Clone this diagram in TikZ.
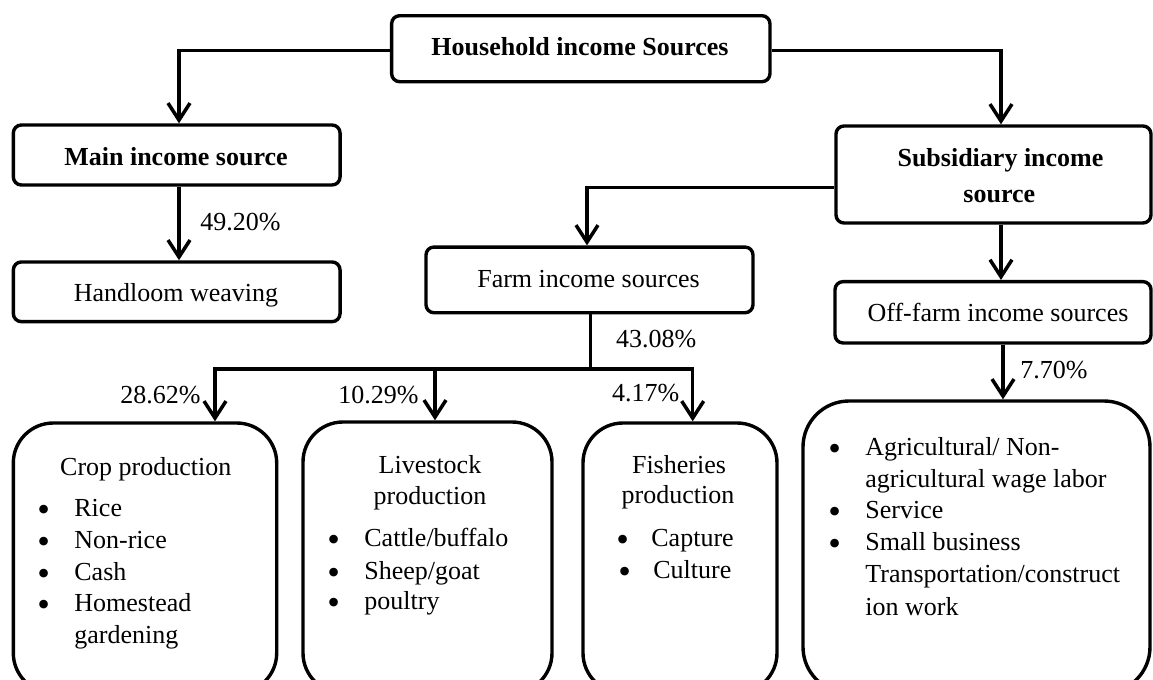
\documentclass[tikz,border=0pt]{standalone}
\usepackage{fontspec}
\setmainfont{Liberation Serif}
\usetikzlibrary{arrows.meta}
\tikzset{
  fnt/.style={font=\fontsize{13}{15.8}\selectfont, inner sep=0pt},
  bx/.style={draw, line width=1.7pt, rounded corners=4pt, inner sep=0pt},
  bigbx/.style={draw, line width=1.7pt, rounded corners=20pt, inner sep=0pt},
  sz/.style 2 args={minimum width=#1*0.5pt, minimum height=#2*0.5pt},
  conn/.style={line width=1.75pt},
  arr/.style={conn, -{Straight Barb[length=8.5pt,width=11pt]}},
  lbl/.style={fnt, anchor=base west},
  txt/.style={fnt, anchor=base},
  ttl/.style={fnt, anchor=base, font=\fontsize{13}{15.8}\selectfont\bfseries},
  bul/.style={fnt, anchor=base west, font=\fontsize{18}{18}\selectfont},
}
\newcommand\bitem[5]{%
  \node[bul] (#1b) at (#2,#4) {\smash{\raisebox{-2.5pt}{\textbullet}}};
  \node[lbl] (#1) at (#3,#4) {#5};}
\begin{document}
\begin{tikzpicture}[x=0.5pt,y=-0.5pt]
\useasboundingbox (0,0) rectangle (1153,680);
\clip (0,0) rectangle (1153,680);
% boxes
\node[bx, sz={378.3}{66}] (top) at (580.8,48.7) {};
\node[bx, sz={326.7}{60}] (main) at (176.7,155) {};
\node[bx, sz={326.7}{59.7}] (hand) at (176.7,291.8) {};
\node[bx, sz={315}{97}] (subs) at (993.5,174.5) {};
\node[bx, sz={327}{65.7}] (farm) at (589.5,279.9) {};
\node[bx, sz={316}{61.3}] (off) at (993,312.3) {};
\node[bigbx, sz={263.4}{270}] (crop) at (145,558) {};
\node[bigbx, sz={249}{271}] (live) at (427.5,557.5) {};
\node[bigbx, sz={194}{270}] (fish) at (680,558) {};
\node[bigbx, rounded corners=23pt, sz={347}{292}] (offl) at (976.5,547) {};
% box texts
\node[ttl] (topt) at (580,55) {Household income Sources};
\node[ttl] (maint) at (176,165) {Main income source};
\node[txt] (handt) at (176,301.7) {Handloom weaving};
\node[ttl] (subst1) at (1000.5,166.7) {Subsidiary income};
\node[ttl] (subst2) at (999.3,202.3) {source};
\node[txt] (farmt) at (588.5,287.3) {Farm income sources};
\node[txt] (offt) at (998,321.7) {Off-farm income sources};
% junction coordinates
\coordinate (jL) at (179,0);
\coordinate (jR) at (1001,0);
\coordinate (jF) at (587,187.7);
\coordinate (bar) at (590.7,369);
\coordinate (bc) at (215,369);
\coordinate (bl) at (435,369);
\coordinate (bf) at (692.7,369);
\coordinate (jO) at (1003,0);
% connectors
\draw[arr] ([yshift=-1pt]top.west) -| (main.north -| jL);
\draw[arr] ([yshift=-1pt]top.east) -| (subs.north -| jR);
\draw[arr] (main.south -| jL) -- (hand.north -| jL);
\draw[arr] (subs.west |- jF) -| (farm.north -| jF);
\draw[arr] (subs.south -| jR) -- (off.north -| jR);
\draw[conn] (farm.south -| bar) -- (bar);
\draw[conn] (bc) -- (bf);
\draw[arr] ([yshift=0.85pt]bc) -- (crop.north -| bc);
\draw[arr] (bl) -- (live.north -| bl);
\draw[arr] ([yshift=0.85pt]bf) -- (fish.north -| bf);
\draw[arr] (off.south -| jO) -- (offl.north -| jO);
% percentages
\node[lbl] (p1) at (200,230) {49.20\%};
\node[lbl] (p2) at (615.7,347.3) {43.08\%};
\node[lbl] (p3) at (120,403.3) {28.62\%};
\node[lbl] (p4) at (338,403.3) {10.29\%};
\node[lbl] (p5) at (611.7,401.7) {4.17\%};
\node[lbl] (p6) at (1020,378.3) {7.70\%};
% crop
\node[txt] (cropt) at (145.8,475) {Crop production};
\bitem{c1}{37}{74}{516.7}{Rice}
\bitem{c2}{37}{74}{548.3}{Non-rice}
\bitem{c3}{37}{74}{580}{Cash}
\bitem{c4}{37}{74}{611.7}{Homestead}
\node[lbl] (c5) at (74,643.3) {gardening};
% livestock
\node[txt] (livet1) at (430,473.3) {Livestock};
\node[txt] (livet2) at (430,504) {production};
\bitem{l1}{327}{364}{546.7}{Cattle/buffalo}
\bitem{l2}{327}{364}{579}{Sheep/goat}
\bitem{l3}{327}{364}{609.3}{poultry}
% fisheries
\node[txt] (fisht1) at (679,473.3) {Fisheries};
\node[txt] (fisht2) at (678,503) {production};
\bitem{f1}{616}{651}{546.7}{Capture}
\bitem{f2}{618}{653}{578.3}{Culture}
% off-farm list
\bitem{o1}{828}{865}{455}{Agricultural/ Non-}
\node[lbl] (o1c) at (865,487.3) {agricultural wage labor};
\bitem{o2}{828}{865}{518.3}{Service}
\bitem{o3}{828}{865}{550.7}{Small business}
\node[lbl] (o3c) at (865,582.3) {Transportation/construct};
\node[lbl] (o3d) at (865,615) {ion work};
\end{tikzpicture}
\end{document}
